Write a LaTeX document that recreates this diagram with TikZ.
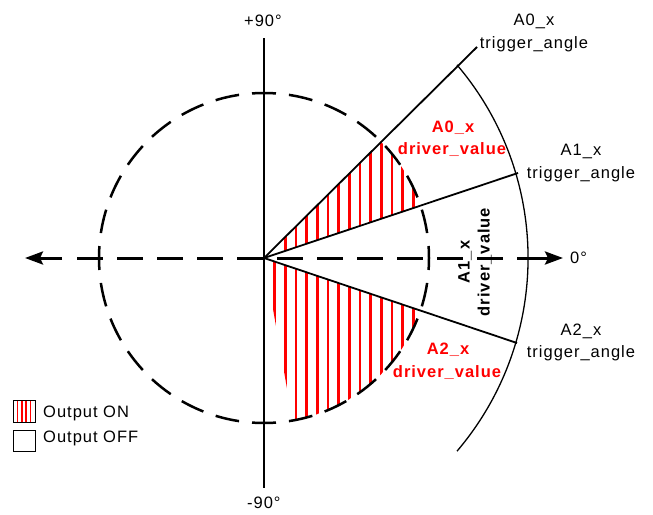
\documentclass[tikz,border=0pt]{standalone}
\usepackage{fontspec}
\setmainfont{Liberation Sans}[LetterSpace=6]
\usetikzlibrary{arrows.meta}
\definecolor{hatchred}{RGB}{255,0,0}
\tikzset{
  lbl/.style={inner sep=0pt, anchor=base, font=\fontsize{16.5}{20}\selectfont},
  lblred/.style={lbl, text=hatchred, font=\fontsize{16.5}{20}\selectfont\bfseries},
  lblbold/.style={lbl, font=\fontsize{16.5}{20}\selectfont\bfseries},
  axisline/.style={line width=2.5pt},
  harrow/.style={line width=3pt, -{Stealth[length=18pt,width=13pt,inset=3pt]}},
  hdash/.style={line width=3pt, dash pattern=on 26pt off 14pt},
  trigline/.style={line width=1.8pt},
  hatch/.style={draw=hatchred, line width=2.5pt},
}
\begin{document}
\begin{tikzpicture}[x=1pt,y=-1pt]
\useasboundingbox (0,0) rectangle (653,514);
\coordinate (O) at (264,258);
% hatching upper
\begin{scope}
\clip (O) -- ++(-18.5:165) arc[start angle=-18.5, end angle=-45, radius=165] -- cycle;
\foreach \k in {2,...,14}{
  \draw[hatch] (264+10.67*\k,258) -- (264+10.67*\k,80);
}
\end{scope}
% hatching lower
\begin{scope}
\clip (O) -- ++(18.5:165) arc[start angle=18.5, end angle=80, radius=165] -- cycle;
\foreach \k in {1,...,14}{
  \draw[hatch] (264+10.67*\k,258) -- (264+10.67*\k,440);
}
\end{scope}
% dashed circle
\draw[line width=2.5pt, dash pattern=on 24pt off 13.03pt, dash phase=12pt] (O) ++(0:165) arc[start angle=0, end angle=360, radius=165];
% axes
\coordinate (Vtop) at (264,38);
\coordinate (Vbot) at (264,488);
\draw[axisline] (Vtop) -- (Vbot);
\coordinate (Lshaft) at (62,258);
\coordinate (Ltip) at (25,258);
\coordinate (Rshaft) at (527,258);
\coordinate (Rtip) at (563,258);
\coordinate (Dl) at (77,258);
\coordinate (Dr) at (527,258);
\draw[harrow] (Lshaft) -- (Ltip);
\draw[harrow] (Rshaft) -- (Rtip);
\draw[hdash] (Dl) -- (Dr);
% trigger lines
\coordinate (A0end) at (477,47);
\coordinate (A1end) at (518,173);
\coordinate (A2end) at (517,343);
\draw[trigline] (O) -- (A0end);
\draw[trigline] (O) -- (A1end);
\draw[trigline] (O) -- (A2end);
% big arc
\coordinate (BigTop) at (457,64.9);
\draw[line width=1.3pt] (BigTop) arc[start angle=-40.4, end angle=40.4, radius=298];
% degree labels
\node[lbl, anchor=base west] (p90) at (244,27) {+90°};
\node[lbl, anchor=base west] (m90) at (247,508) {-90°};
\node[lbl, anchor=base west] (z0) at (570,263) {0°};
% trigger labels
\node[lbl] (t0a) at (534,25) {A0\_x};
\node[lbl] (t0b) at (534,48) {trigger\_angle};
\node[lbl] (t1a) at (581,155) {A1\_x};
\node[lbl] (t1b) at (581,178) {trigger\_angle};
\node[lbl] (t2a) at (581,335) {A2\_x};
\node[lbl] (t2b) at (581,357) {trigger\_angle};
% driver labels
\node[lblred] (d0a) at (453,132) {A0\_x};
\node[lblred] (d0b) at (452,154) {driver\_value};
\node[lblred] (d2a) at (448,354) {A2\_x};
\node[lblred] (d2b) at (447,377) {driver\_value};
\node[lblbold, rotate=90] (d1a) at (469.5,262) {A1\_x};
\node[lblbold, rotate=90] (d1b) at (489.5,262) {driver\_value};
% legend
\coordinate (L1a) at (13,400);
\coordinate (L1b) at (35,422);
\coordinate (L2a) at (13,430);
\coordinate (L2b) at (35,451);
\foreach \x in {17.5,21.8,26,30.3}{
  \draw[hatch, line width=1.5pt] (\x,400) -- (\x,422);
}
\draw[line width=1pt] (L1a) rectangle (L1b);
\draw[line width=1pt] (L2a) rectangle (L2b);
\node[lbl, anchor=base west] (on) at (43,417) {Output ON};
\node[lbl, anchor=base west] (off) at (43,442) {Output OFF};
\end{tikzpicture}
\end{document}
